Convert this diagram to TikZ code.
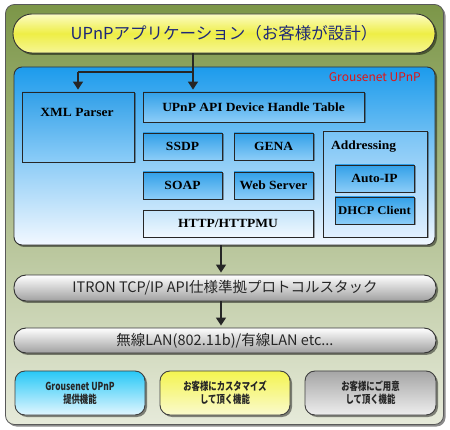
\documentclass[tikz,border=0pt]{standalone}
\usepackage{fontspec}
\setmainfont{Liberation Serif}[FakeStretch=1.08]
\newfontfamily\jp{Noto Sans CJK JP}
\newfontfamily\jpn{Noto Sans CJK JP}[FakeStretch=0.76]
\usetikzlibrary{arrows.meta,shadows}
\definecolor{olivetop}{RGB}{124,150,72}
\definecolor{olivebot}{RGB}{230,234,218}
\definecolor{ylwpale}{RGB}{252,252,195}
\definecolor{ylwmid}{RGB}{238,238,70}
\definecolor{ylwbot}{RGB}{246,246,150}
\definecolor{bigbluetop}{RGB}{28,155,236}
\definecolor{bigbluebot}{RGB}{242,248,255}
\definecolor{boxtop}{RGB}{50,160,232}
\definecolor{boxbot}{RGB}{140,205,248}
\definecolor{httptop}{RGB}{195,228,250}
\definecolor{httpbot}{RGB}{240,248,255}
\definecolor{addrtop}{RGB}{120,195,245}
\definecolor{addrbot}{RGB}{225,240,255}
\definecolor{graybot}{RGB}{160,160,160}
\definecolor{apptext}{RGB}{30,40,120}
\definecolor{grred}{RGB}{225,20,20}
\definecolor{legbluetop}{RGB}{40,200,246}
\definecolor{legbluebot}{RGB}{225,246,255}
\definecolor{legylwtop}{RGB}{244,244,80}
\definecolor{legylwbot}{RGB}{250,250,205}
\definecolor{leggraytop}{RGB}{165,165,165}
\definecolor{leggraybot}{RGB}{238,238,238}
\begin{document}
\begin{tikzpicture}[x=1pt,y=-1pt,
  shad/.style={drop shadow={shadow xshift=2pt,shadow yshift=-2pt,opacity=0.45,fill=black}},
  panelbox/.style={draw=black!65,line width=0.8pt,rounded corners=9pt,top color=olivetop,bottom color=olivebot,inner sep=0pt,shad},
  pill/.style={draw=black!80,line width=0.9pt,rounded corners=#1,inner sep=0pt,shad},
  boxfont/.style={font=\fontsize{12.5}{14}\selectfont\bfseries},
  innerbox/.style={draw=black!85,line width=0.8pt,top color=boxtop,bottom color=boxbot,inner sep=0pt,boxfont,
     drop shadow={shadow xshift=1.5pt,shadow yshift=-1.5pt,opacity=0.35,fill=black}},
  graypill/.style={pill=12pt,top color=white,bottom color=graybot,font=\jp\fontsize{14.5}{16}\selectfont,text=black!85},
  legbox/.style={draw=black!75,line width=0.9pt,rounded corners=10pt,inner sep=0pt,align=center,
     font=\jpn\bfseries\fontsize{11}{13}\selectfont,text=black!85,shad},
  arr/.style={line width=1.5pt,draw=black!85,-{Triangle[width=10pt,length=8pt]},shorten >=2pt}
]
\useasboundingbox (0,0) rectangle (450,430);
% outer panel
\node[panelbox,minimum width=438pt,minimum height=420pt] (panel) at (224.5,214.5) {};
% application pill
\node[pill=19pt,shading=axis,top color=ylwpale,bottom color=ylwbot,middle color=ylwmid,
  minimum width=422pt,minimum height=39pt,text=apptext,font=\jp\fontsize{16.5}{18}\selectfont] (app) at (224,33.5) {UPnPアプリケーション（お客様が設計）};
% big blue box
\node[draw=black!80,line width=0.9pt,rounded corners=8pt,top color=bigbluetop,bottom color=bigbluebot,
  minimum width=421pt,minimum height=178pt,inner sep=0pt,shad] (upnp) at (224.5,156) {};
\node[anchor=east,text=grred,font=\jp\fontsize{12}{13}\selectfont,inner sep=0pt] (grtitle) at (421,77) {Grousenet UPnP};
% inner boxes
\node[innerbox,minimum width=112pt,minimum height=70pt] (xml) at (78,127) {};
\node[boxfont,inner sep=0pt] (xmltxt) at (77,112) {XML Parser};
\node[innerbox,minimum width=221pt,minimum height=30pt] (api) at (253.5,107) {UPnP API Device Handle Table};
\node[innerbox,minimum width=79pt,minimum height=27pt] (ssdp) at (182.5,146.5) {SSDP};
\node[innerbox,minimum width=79pt,minimum height=27pt] (gena) at (273.5,146.5) {GENA};
\node[innerbox,minimum width=79pt,minimum height=27pt] (soap) at (182.5,185.5) {SOAP};
\node[innerbox,minimum width=79pt,minimum height=27pt] (web) at (273.5,185.5) {Web Server};
\node[innerbox,top color=httptop,bottom color=httpbot,minimum width=170pt,minimum height=27pt] (http) at (228,223.5) {HTTP/HTTPMU};
\node[innerbox,top color=addrtop,bottom color=addrbot,minimum width=104pt,minimum height=106pt] (addr) at (375,184) {};
\node[anchor=west,boxfont,inner sep=0pt] (addrtxt) at (331,147) {Addressing};
\node[innerbox,minimum width=79pt,minimum height=27pt] (autoip) at (374.5,178.5) {Auto-IP};
\node[innerbox,minimum width=79pt,minimum height=27pt,font=\fontsize{11.8}{14}\selectfont\bfseries] (dhcp) at (374.5,210.5) {DHCP Client};
% lower pills
\node[graypill,minimum width=422pt,minimum height=26pt] (itron) at (225,288) {ITRON TCP/IP API仕様準拠プロトコルスタック};
\node[graypill,minimum width=422pt,minimum height=25pt] (lan) at (225,340.5) {無線LAN(802.11b)/有線LAN etc...};
% legend
\node[legbox,top color=legbluetop,bottom color=legbluebot,minimum width=130pt,minimum height=44pt] (leg1) at (80,393) {Grousenet UPnP\\提供機能};
\node[legbox,top color=legylwtop,bottom color=legylwbot,minimum width=130pt,minimum height=44pt] (leg2) at (225,393) {お客様にカスタマイズ\\して頂く機能};
\node[legbox,top color=leggraytop,bottom color=leggraybot,minimum width=131pt,minimum height=44pt] (leg3) at (370.5,393) {お客様にご用意\\して頂く機能};
% connectors
\coordinate (br) at (193,72);
\draw[arr] (br |- app.south) -- (br |- api.north);
\draw[line width=1.5pt,draw=black!85] (br) -- (br -| xml.north);
\draw[arr] (br -| xml.north) -- (xml.north);
\coordinate (dn) at (221,0);
\draw[arr] (dn |- upnp.south) -- (dn |- itron.north);
\draw[arr] (dn |- itron.south) -- (dn |- lan.north);
\end{tikzpicture}
\end{document}
